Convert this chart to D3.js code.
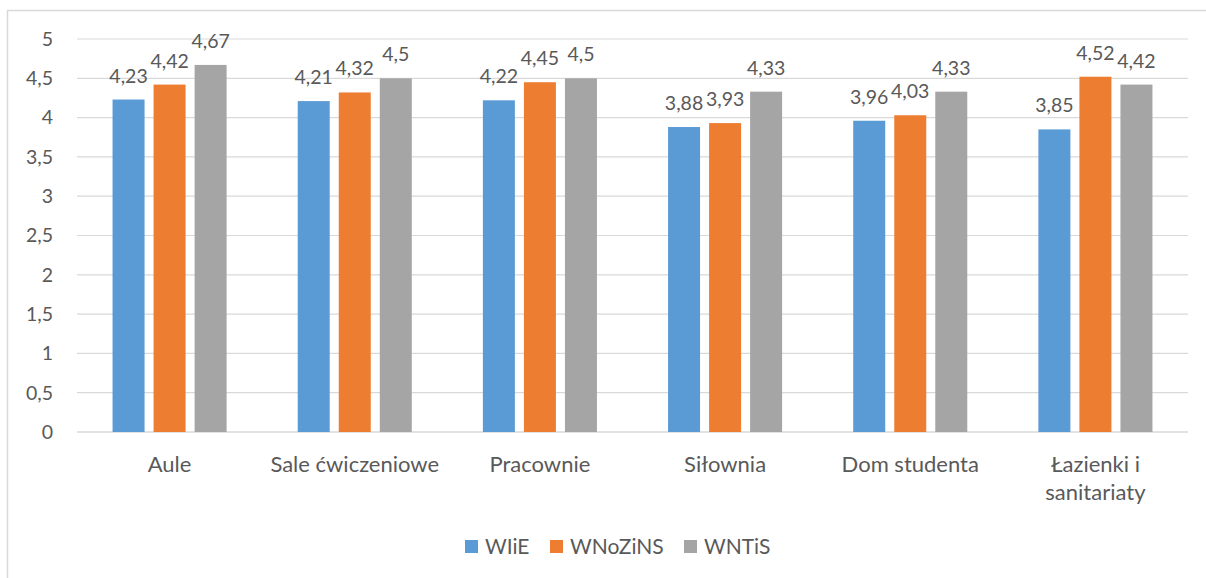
<!DOCTYPE html>
<html>
<head>
<meta charset="utf-8">
<script src="https://cdn.jsdelivr.net/npm/d3@7"></script>
<style>
  body { margin: 0; background: #fff; }
  svg { display: block; font-family: Lato, "Open Sans", sans-serif; }
</style>
</head>
<body>
<svg id="chart" width="1206" height="578"></svg>
<script>
// ------------------------------------
// Data
// ------------------------------------
const categories = ["Aule", "Sale ćwiczeniowe", "Pracownie", "Siłownia", "Dom studenta", "Łazienki i\nsanitariaty"];
const seriesNames = ["WIiE", "WNoZiNS", "WNTiS"];
const wiie = [4.23, 4.21, 4.22, 3.88, 3.96, 3.85];
const wnozins = [4.42, 4.32, 4.45, 3.93, 4.03, 4.52];
const wntis = [4.67, 4.5, 4.5, 4.33, 4.33, 4.42];
const yTicks = [0, 0.5, 1, 1.5, 2, 2.5, 3, 3.5, 4, 4.5, 5];

const colors = ["#5b9bd5", "#ed7d31", "#a5a5a5"];
const values = [wiie, wnozins, wntis];
const textColor = "#595959";
const fmt = d => String(d).replace(".", ",");

const svg = d3.select("#chart");

// chart frame (right/bottom edges fall outside the picture)
svg.append("rect")
  .attr("x", 7.5).attr("y", 10.5)
  .attr("width", 1220).attr("height", 600)
  .attr("fill", "none")
  .attr("stroke", "#d9d9d9")
  .attr("stroke-width", 1.5);

const plot = { left: 77, right: 1188, top: 39, bottom: 432 };

const x0 = d3.scaleBand().domain(categories).range([plot.left, plot.right]).padding(0);
const groupW = x0.bandwidth() * 0.616;
const x1 = d3.scaleBand().domain(seriesNames)
  .range([(x0.bandwidth() - groupW) / 2, (x0.bandwidth() + groupW) / 2])
  .paddingInner(0.22);
const y = d3.scaleLinear().domain([0, 5]).range([plot.bottom, plot.top]);

// gridlines
svg.append("g")
  .selectAll("line")
  .data(yTicks)
  .join("line")
  .attr("x1", plot.left).attr("x2", plot.right)
  .attr("y1", d => y(d)).attr("y2", d => y(d))
  .attr("stroke", "#d9d9d9")
  .attr("stroke-width", d => d === 0 ? 1.5 : 1.2);

// y tick labels
svg.append("g")
  .selectAll("text")
  .data(yTicks)
  .join("text")
  .attr("x", 53)
  .attr("y", d => y(d))
  .attr("dy", "0.35em")
  .attr("text-anchor", "end")
  .attr("fill", textColor)
  .style("font-size", "19.5px")
  .text(fmt);

// bars + labels
const groups = svg.append("g")
  .selectAll("g")
  .data(categories)
  .join("g")
  .attr("transform", d => `translate(${x0(d)},0)`);

groups.each(function (cat, ci) {
  const g = d3.select(this);
  seriesNames.forEach((s, si) => {
    const v = values[si][ci];
    g.append("rect")
      .attr("x", x1(s))
      .attr("y", y(v))
      .attr("width", x1.bandwidth())
      .attr("height", y(0) - y(v))
      .attr("fill", colors[si]);
    g.append("text")
      .attr("x", x1(s) + x1.bandwidth() / 2)
      .attr("y", y(v) - 17)
      .attr("text-anchor", "middle")
      .attr("fill", textColor)
      .style("font-size", "19.5px")
      .text(fmt(v));
  });
});

// category labels
svg.append("g")
  .selectAll("text")
  .data(categories)
  .join("text")
  .attr("x", d => x0(d) + x0.bandwidth() / 2)
  .attr("y", 472)
  .attr("text-anchor", "middle")
  .attr("fill", textColor)
  .style("font-size", "22px")
  .each(function (d) {
    const t = d3.select(this);
    d.split("\n").forEach((line, i) => {
      t.append("tspan")
        .attr("x", x0(d) + x0.bandwidth() / 2)
        .attr("dy", i === 0 ? 0 : 28)
        .text(line);
    });
  });

// legend
const legendX = [465, 550, 684];
const legend = svg.append("g")
  .selectAll("g")
  .data(seriesNames)
  .join("g")
  .attr("transform", (d, i) => `translate(${legendX[i]},540)`);

legend.append("rect")
  .attr("width", 13).attr("height", 13)
  .attr("fill", (d, i) => colors[i]);

legend.append("text")
  .attr("x", 20)
  .attr("y", 6.5)
  .attr("dy", "0.37em")
  .attr("fill", textColor)
  .style("font-size", "21px")
  .text(d => d);
</script>
</body>
</html>
